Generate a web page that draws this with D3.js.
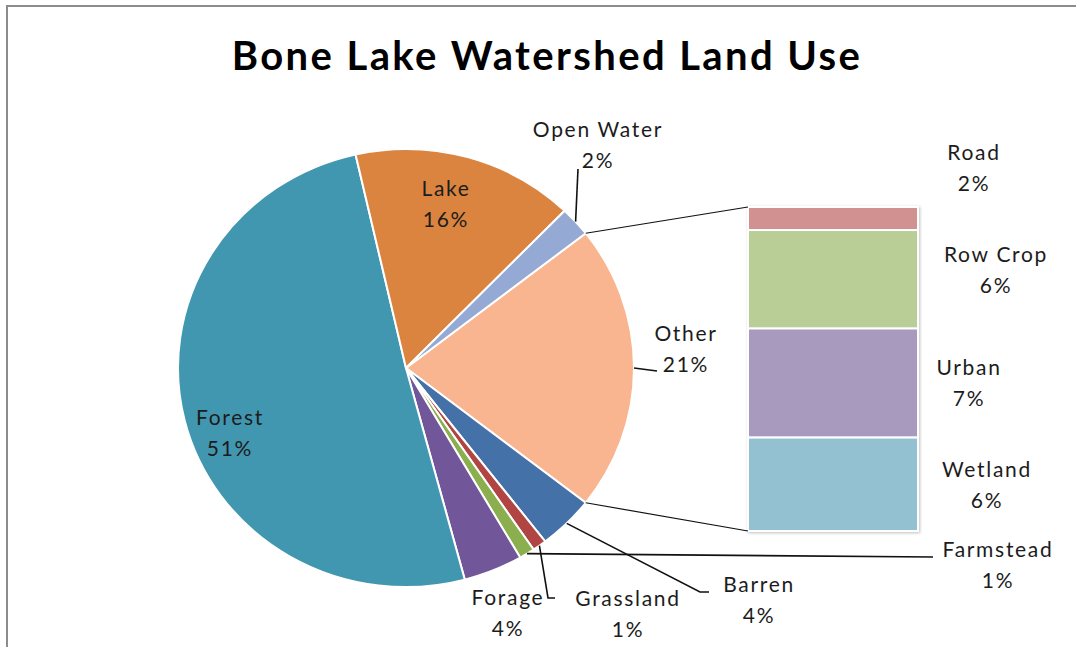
<!DOCTYPE html>
<html>
<head>
<meta charset="utf-8">
<script src="https://cdn.jsdelivr.net/npm/d3@7"></script>
<style>
  html, body { margin: 0; padding: 0; background: #fff; }
  svg { display: block; }
  text { font-family: Lato, "Open Sans", sans-serif; }
</style>
</head>
<body>
<svg id="chart" width="1076" height="647"></svg>
<script>
// ---------- data ----------
const title = "Bone Lake Watershed Land Use";
const pieCategories = ["Forest", "Lake", "Open Water", "Barren", "Farmstead", "Grassland", "Forage"];
const pieValues     = [50.6, 15.8, 2.2, 4.0, 1.0, 1.1, 4.2];
const otherName = "Other";
const barCategories = ["Road", "Row Crop", "Urban", "Wetland"];
const barValues     = [1.5, 6.4, 7.1, 6.1];

// ---------- styles ----------
const colors = {
  "Forest": "#4297B0", "Lake": "#DA8440", "Open Water": "#94AAD4", "Other": "#F8B58F",
  "Barren": "#4571A9", "Farmstead": "#B04544", "Grassland": "#8BAE4E", "Forage": "#71579A",
  "Road": "#D09190", "Row Crop": "#B9CD96", "Urban": "#A79ABE", "Wetland": "#93C1D2"
};

// label layout (position of first text line baseline, centered)
const labelPos = {
  "Forest":     {x: 229, y: 425},
  "Lake":       {x: 445, y: 196},
  "Open Water": {x: 597, y: 137},
  "Other":      {x: 685, y: 341},
  "Barren":     {x: 758, y: 592},
  "Farmstead":  {x: 997, y: 557},
  "Grassland":  {x: 627, y: 606},
  "Forage":     {x: 507, y: 605},
  "Road":       {x: 973, y: 160},
  "Row Crop":   {x: 995, y: 262},
  "Urban":      {x: 968, y: 375},
  "Wetland":    {x: 986, y: 477}
};
// leader lines: start on slice edge (mid-angle of "from"), then via points
const leaders = [
  {from: "Open Water", pts: [[578, 169]]},
  {from: "Other",      pts: [[657, 371]]},
  {from: "Barren",     pts: [[700, 592], [709, 592]]},
  {from: "Grassland",  pts: [[933, 557]]},
  {from: "Farmstead",  pts: [[548, 598], [555, 598]]}
];

const svg = d3.select("#chart");
const cx = 406, cy = 368, ry = 219, rx = 228;

// frame
svg.append("path")
  .attr("d", "M7,647 V6 H1076")
  .attr("fill", "none").attr("stroke", "#8c8c8c").attr("stroke-width", 2);

// title
svg.append("text")
  .attr("x", 547).attr("y", 70)
  .attr("text-anchor", "middle")
  .attr("font-size", 40).attr("font-weight", 700)
  .attr("letter-spacing", 2.4)
  .attr("fill", "#000")
  .text(title);

// ---------- pie ----------
const otherTotal = d3.sum(barValues);
const pieOrderNames = [otherName, "Barren", "Farmstead", "Grassland", "Forage", "Forest", "Lake", "Open Water"];
const valueOf = name => name === otherName ? otherTotal : pieValues[pieCategories.indexOf(name)];
const pieData = pieOrderNames.map(n => ({name: n, value: valueOf(n)}));
const total = d3.sum(pieData, d => d.value);
const start = Math.PI / 2 - (otherTotal / total) * Math.PI;

const pie = d3.pie().sort(null).value(d => d.value)
  .startAngle(start).endAngle(start + 2 * Math.PI);
const arcs = pie(pieData);
const arc = d3.arc().innerRadius(0).outerRadius(ry);

const g = svg.append("g").attr("transform", `translate(${cx},${cy}) scale(${rx / ry},1)`);
g.selectAll("path").data(arcs).join("path")
  .attr("d", arc)
  .attr("fill", d => colors[d.data.name])
  .attr("stroke", "#fff").attr("stroke-width", 2)
  .attr("vector-effect", "non-scaling-stroke");

const edgePt = a => [cx + rx * Math.sin(a), cy - ry * Math.cos(a)];
const arcByName = n => arcs.find(a => a.data.name === n);

// ---------- bar of pie ----------
const barX0 = 748, barX1 = 918;
const yScale = d3.scaleLinear().domain([0, otherTotal]).range([531, 207]);
const stacked = [];
let acc = 0;
for (let i = barCategories.length - 1; i >= 0; i--) {
  stacked.push({name: barCategories[i], value: barValues[i], y0: acc, y1: acc + barValues[i]});
  acc += barValues[i];
}

const defs = svg.append("defs");
const f = defs.append("filter").attr("id", "sh").attr("x", "-10%").attr("y", "-10%").attr("width", "120%").attr("height", "120%");
f.append("feDropShadow").attr("dx", 1).attr("dy", 1).attr("stdDeviation", 1.5)
  .attr("flood-color", "#000").attr("flood-opacity", 0.25);

svg.append("g").attr("filter", "url(#sh)")
  .selectAll("rect").data(stacked).join("rect")
  .attr("x", barX0).attr("width", barX1 - barX0)
  .attr("y", d => yScale(d.y1)).attr("height", d => yScale(d.y0) - yScale(d.y1))
  .attr("fill", d => colors[d.name])
  .attr("stroke", "#fff").attr("stroke-width", 2);

// connector lines
const oArc = arcByName(otherName);
const pTop = edgePt(oArc.startAngle), pBot = edgePt(oArc.endAngle);
svg.append("line").attr("x1", pTop[0]).attr("y1", pTop[1]).attr("x2", barX0).attr("y2", yScale(otherTotal))
  .attr("stroke", "#111").attr("stroke-width", 1.2);
svg.append("line").attr("x1", pBot[0]).attr("y1", pBot[1]).attr("x2", barX0).attr("y2", yScale(0))
  .attr("stroke", "#111").attr("stroke-width", 1.2);

// leader lines
leaders.forEach(l => {
  const a = arcByName(l.from);
  const p0 = edgePt((a.startAngle + a.endAngle) / 2);
  svg.append("path")
    .attr("d", d3.line()([p0, ...l.pts]))
    .attr("fill", "none").attr("stroke", "#111").attr("stroke-width", 1.6);
});

// ---------- labels ----------
const pct = v => Math.round(v / total * 100) + "%";
const allLabels = pieData.map(d => ({name: d.name, value: d.value}))
  .concat(barCategories.map((n, i) => ({name: n, value: barValues[i]})));

const lg = svg.append("g").attr("font-size", 21).attr("fill", "#1c1c1c").attr("text-anchor", "middle")
  .attr("letter-spacing", 1.7);
allLabels.forEach(d => {
  const p = labelPos[d.name];
  const t = lg.append("text").attr("x", p.x + 1).attr("y", p.y);
  t.append("tspan").attr("x", p.x + 1).attr("dy", 0).text(d.name);
  t.append("tspan").attr("x", p.x + 1).attr("dy", 31).text(pct(d.value));
});
</script>
</body>
</html>
